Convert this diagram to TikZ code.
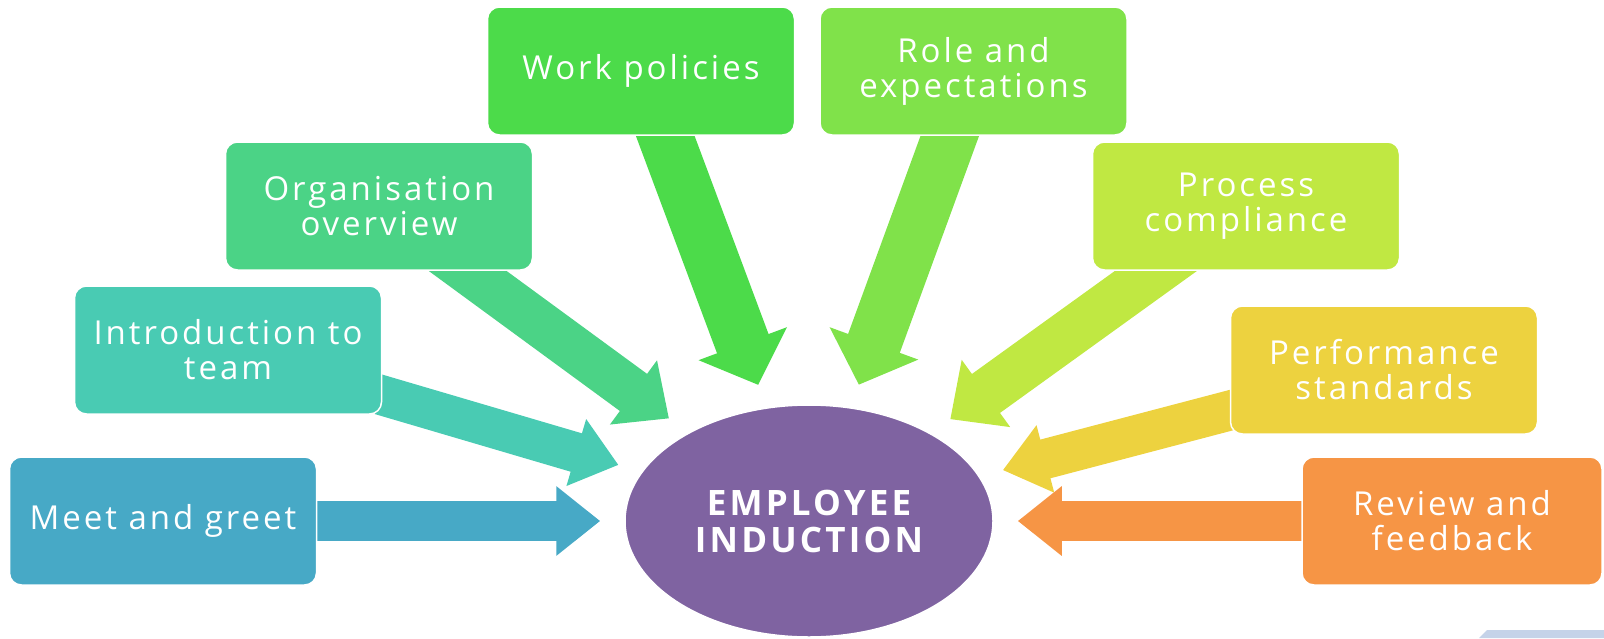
\documentclass[tikz,border=0pt]{standalone}
\usepackage{fontspec}
\newfontfamily\topicfont[LetterSpace=9]{Open Sans}
\newfontfamily\hubfont[LetterSpace=9]{Open Sans}
\usepackage{tikz}
\usepackage{xcolor}
\usetikzlibrary{arrows.meta}
\usetikzlibrary{shapes.geometric}
\usetikzlibrary{positioning, backgrounds}

\definecolor{meetcol}{HTML}{47A9C6}
\definecolor{introcol}{HTML}{49CBB3}
\definecolor{orgcol}{HTML}{4BD386}
\definecolor{workcol}{HTML}{4CDB4A}
\definecolor{rolecol}{HTML}{80E24A}
\definecolor{proccol}{HTML}{C0E842}
\definecolor{perfcol}{HTML}{EDD23F}
\definecolor{revcol}{HTML}{F69545}
\definecolor{empcol}{HTML}{7F63A1}
\definecolor{stripcol}{HTML}{C5D3E9}

\tikzset{
	topic/.style={rectangle, rounded corners=12pt, fill=#1, draw=white, line width=1.5pt,
		minimum width=307pt, minimum height=128pt, text=white, align=center,
		font=\topicfont\fontsize{33}{35}\selectfont},
	push/.style 2 args={draw=#1, line width=#2, shorten >=24pt,
		-{Triangle[length=44pt, width=0pt 1.67]}}
}

\begin{document}
\begin{tikzpicture}[x=1pt, y=-1pt]
		\useasboundingbox (0,0) rectangle (1604,638);
		\fill[stripcol] (1479,638) -- (1487,630) -- (1604,630) -- (1604,638) -- cycle;

		\node[ellipse, fill=empcol, draw=white, line width=1.5pt, minimum width=368pt, minimum height=232pt,
			inner sep=0pt, text=white, align=center, font=\hubfont\bfseries\fontsize{35}{37}\selectfont]
			(emp) at (809,521) {EMPLOYEE\\INDUCTION};

		\node[topic=meetcol] (meet) at (163,521) {Meet and greet};
		\node[topic=introcol] (intro) at (228,350) {Introduction to\\team};
		\node[topic=orgcol] (org) at (379,206) {Organisation\\overview};
		\node[topic=workcol] (work) at (641,71) {Work policies};
		\node[topic=rolecol, right = 24pt of work] (role) {Role and\\expectations};
		\node[topic=proccol] (proc) at (1246,206) {Process\\compliance};
		\node[topic=perfcol] (perf) at (1384,370) {Performance\\standards};
		\node[topic=revcol, minimum width=300pt] (rev) at (1452,521) {Review and\\feedback};

		\begin{scope}[on background layer]
		\draw[push={meetcol}{40pt}] (meet.center) -- (emp);
		\draw[push={introcol}{40pt}] (intro.center) -- (emp);
		\draw[push={orgcol}{46pt}] (org.center) -- (emp);
		\draw[push={workcol}{55pt}] (work.center) -- (emp);
		\draw[push={rolecol}{55pt}] (role.center) -- (emp);
		\draw[push={proccol}{48pt}] (proc.center) -- (emp);
		\draw[push={perfcol}{40pt}] (perf.center) -- (emp);
		\draw[push={revcol}{40pt}] (rev.center) -- (emp);
		\end{scope}
\end{tikzpicture}
\end{document}
